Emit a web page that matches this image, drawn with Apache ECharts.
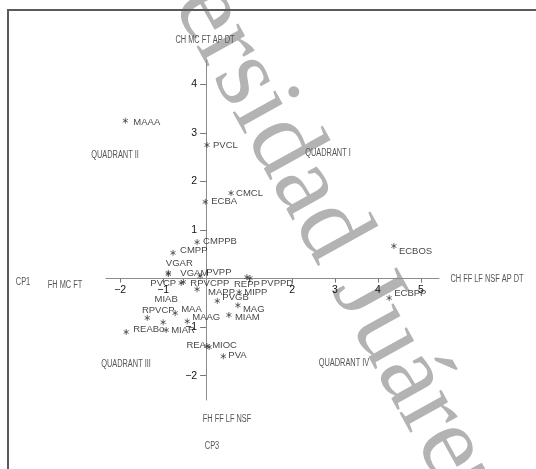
<!DOCTYPE html>
<html>
<head>
<meta charset="utf-8">
<script src="https://cdn.jsdelivr.net/npm/echarts@6.0.0/dist/echarts.min.js"></script>
<style>
  html, body { margin: 0; padding: 0; background: #fff; }
  #chart { width: 536px; height: 469px; }
</style>
</head>
<body>
<div id="chart"></div>
<script>
// point names and coordinates (CP1 on x, CP3 on y)
const names = ['MAAA', 'PVCL', 'CMCL', 'ECBA', 'CMPPB', 'CMPP', 'VGAR', 'VGAM', 'PVPP',
  'PVCP', 'RPVCPP', 'MAPP', 'REPP', 'PVPPD', 'MIPP', 'PVGB', 'MAG', 'MIAM', 'MIAB',
  'RPVCP', 'MAA', 'MAAG', 'REABo', 'MIAR', 'REA', 'MIOC', 'PVA', 'ECBOS', 'ECBPP']
const cp1 = [-1.88, 0.02, 0.58, -0.02, -0.21, -0.77, -0.88, -0.88, -0.14,
  -0.58, -0.53, -0.21, 0.95, 1.02, 0.77, 0.26, 0.74, 0.53, -1.00,
  -1.37, -0.72, -0.44, -1.86, -0.93, 0.02, 0.07, 0.40, 4.37, 4.26]
const cp3 = [3.25, 2.75, 1.76, 1.58, 0.75, 0.53, 0.12, 0.09, 0.05,
  -0.09, -0.07, -0.22, 0.03, 0.01, -0.28, -0.46, -0.55, -0.75, -0.90,
  -0.81, -0.71, -0.88, -1.10, -1.06, -1.39, -1.41, -1.60, 0.67, -0.40]

const xTicks = [-2, -1, 1, 2, 3, 4, 5]
const xTickLabels = [-2, -1, 2, 3, 4, 5]
const yTicks = [-2, -1, 1, 2, 3, 4]

// where each label sits around its asterisk (default: right)
const labelPlace = {
  MAAA: ['right', [2, 2]], CMCL: ['right', [-1, 0]], CMPPB: ['right', [0, -1]],
  CMPP: ['right', [1, -2]], VGAR: ['inside', [11, -9]], VGAM: ['right', [6, -1]],
  PVPP: ['right', [0, -4]], PVCP: ['left', [1, 0]], RPVCPP: ['right', [1, 1]],
  MAPP: ['right', [5, 3]], REPP: ['inside', [0, 7]], PVPPD: ['right', [5, 5]],
  MIPP: ['right', [-1, 0]], PVGB: ['right', [-1, -4]], MAG: ['right', [-1, 4]],
  MIAM: ['right', [0, 2]], MIAB: ['inside', [3, -23]], RPVCP: ['inside', [11, -8]],
  MAA: ['right', [0, -4]], MAAG: ['right', [-1, -4]], REABo: ['right', [1, -3]],
  MIAR: ['right', [-1, 0]], REA: ['left', [5, -1]], MIOC: ['right', [-3, -2]],
  PVA: ['right', [-1, -1]], ECBOS: ['right', [-1, 5]], ECBPP: ['right', [-1, -5]]
}

const points = names.map((n, i) => {
  const p = labelPlace[n] || ['right', [0, 0]]
  return { name: n, value: [cp1[i], cp3[i]], label: { position: p[0], offset: p[1] } }
})

// plot area and ranges
const G = { left: 106, top: 60, width: 333, height: 340 }
const xMin = -2.33, xMax = 5.42, yMin = -2.5, yMax = 4.5
// move each axis onto the other's zero
const xAxisShift = -(G.height * (0 - yMin) / (yMax - yMin))
const yAxisShift = -(G.width * (0 - xMin) / (xMax - xMin))

const minus = v => String(v).replace('-', '\u2212')
const labelFont = "'Liberation Sans', Arial, sans-serif"
const noteFont = "10px 'Liberation Sans', sans-serif"

function note(text, x, y) {
  return {
    type: 'text', x: x, y: y, z: 5, scaleX: 0.74,
    style: { text: text, font: noteFont, fill: '#555', align: 'center', verticalAlign: 'middle' }
  }
}

const chart = echarts.init(document.getElementById('chart'))
chart.setOption({
  backgroundColor: '#fff',
  animation: false,
  grid: { left: G.left, top: G.top, width: G.width, height: G.height },
  xAxis: {
    type: 'value', min: xMin, max: xMax, offset: xAxisShift,
    splitLine: { show: false },
    axisLine: { onZero: false, lineStyle: { color: '#8c8c8c', width: 1 } },
    axisTick: { customValues: xTicks, length: 4, lineStyle: { color: '#777' } },
    axisLabel: {
      customValues: xTickLabels, margin: 6, color: '#111',
      fontFamily: labelFont, fontSize: 10.5, formatter: minus
    }
  },
  yAxis: {
    type: 'value', min: yMin, max: yMax, offset: yAxisShift,
    splitLine: { show: false },
    axisLine: { onZero: false, lineStyle: { color: '#8c8c8c', width: 1 } },
    axisTick: { customValues: yTicks, length: 6, lineStyle: { color: '#777' } },
    axisLabel: {
      customValues: yTicks, margin: 9, color: '#111',
      fontFamily: labelFont, fontSize: 10.5, formatter: minus
    }
  },
  graphic: [
    {
      type: 'text', x: 290, y: 159, rotation: -61 * Math.PI / 180, z: -1,
      style: {
        text: 'Universidad Juárez', font: "104px 'Liberation Serif', serif",
        fill: '#b3b3b3', align: 'center', verticalAlign: 'middle'
      }
    },
    {
      type: 'polyline', z: 5,
      shape: { points: [[8, 469], [8, 10], [536, 10]] },
      style: { stroke: '#5a5a5a', lineWidth: 2, fill: null }
    },
    note('CH MC FT AP DT', 205, 40),
    note('CP1', 23, 282),
    note('FH MC FT', 65, 285),
    note('CH FF LF NSF AP DT', 487, 279),
    note('FH FF LF NSF', 227, 419),
    note('CP3', 212, 446),
    note('QUADRANT II', 115, 155),
    note('QUADRANT I', 328, 153),
    note('QUADRANT III', 126, 364),
    note('QUADRANT IV', 344, 363)
  ],
  series: [{
    type: 'scatter',
    symbol: 'path://M5,0L5,10M0.7,2.5L9.3,7.5M0.7,7.5L9.3,2.5',
    symbolSize: 6,
    symbolKeepAspect: true,
    itemStyle: { color: 'transparent', borderColor: '#333', borderWidth: 0.9 },
    label: {
      show: true, distance: 3, color: '#111',
      fontFamily: labelFont, fontSize: 9.5,
      formatter: p => p.name
    },
    data: points
  }]
})
</script>
</body>
</html>
